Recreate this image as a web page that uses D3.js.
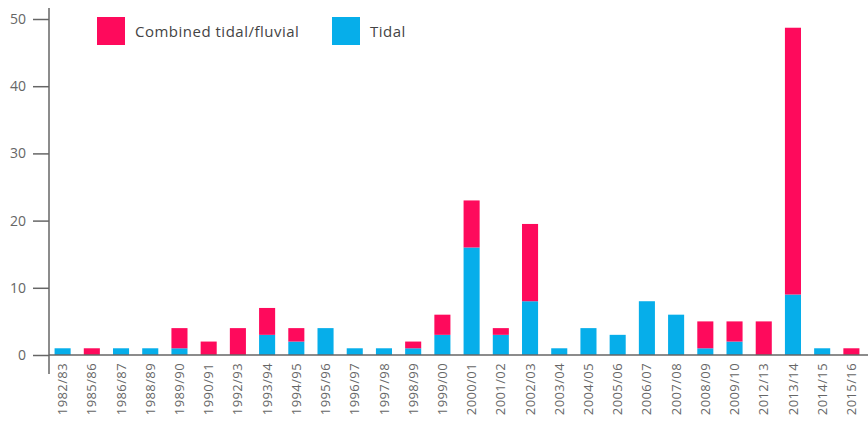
<!DOCTYPE html>
<html>
<head>
<meta charset="utf-8">
<script src="https://cdn.jsdelivr.net/npm/d3@7/dist/d3.min.js"></script>
<style>
  html, body { margin: 0; padding: 0; background: #fff; }
  svg { display: block; }
  text { font-family: "Open Sans", "DejaVu Sans", sans-serif; }
</style>
</head>
<body>
<svg id="chart" width="868" height="426"></svg>
<script>
const categories = ["1982/83","1985/86","1986/87","1988/89","1989/90","1990/91","1992/93","1993/94","1994/95","1995/96","1996/97","1997/98","1998/99","1999/00","2000/01","2001/02","2002/03","2003/04","2004/05","2005/06","2006/07","2007/08","2008/09","2009/10","2012/13","2013/14","2014/15","2015/16"];
const tidal    = [1,0,1,1,1,0,0,3,2,4,1,1,1,3,16,3,8,1,4,3,8,6,1,2,0,9,1,0];
const combined = [0,1,0,0,3,2,4,4,2,0,0,0,1,3,7,1,11.5,0,0,0,0,0,4,3,5,39.7,0,1];
const seriesNames = ["Combined tidal/fluvial", "Tidal"];
const yTicks = [0,10,20,30,40,50];

const colors = { "Tidal": "#06aeea", "Combined tidal/fluvial": "#fe0a5c" };

const svg = d3.select("#chart");

const x = d3.scaleBand().domain(categories).range([48, 866]).paddingInner(0.45).paddingOuter(0.225);
const y = d3.scaleLinear().domain([0, 50]).range([355, 19]);

const rows = categories.map((c, i) => ({ cat: c, "Tidal": tidal[i], "Combined tidal/fluvial": combined[i] }));
const stack = d3.stack().keys(["Tidal", "Combined tidal/fluvial"]);
const stacked = stack(rows);

svg.append("g").selectAll("g").data(stacked).join("g")
  .attr("fill", d => colors[d.key])
  .selectAll("rect").data(d => d).join("rect")
  .attr("x", d => x(d.data.cat))
  .attr("width", x.bandwidth())
  .attr("y", d => y(d[1]))
  .attr("height", d => y(d[0]) - y(d[1]));

// y axis
const yAxis = d3.axisLeft(y).tickValues(yTicks).tickSize(16).tickPadding(5).tickSizeOuter(0);
const gy = svg.append("g").attr("transform", "translate(49,0)").call(yAxis);
gy.select(".domain").remove();
gy.selectAll(".tick line").attr("stroke", "#666").attr("stroke-width", 1.5);
gy.selectAll(".tick text").attr("fill", "#666").style("font-size", "14px").attr("x", -23);
svg.append("line").attr("x1", 49).attr("x2", 49).attr("y1", 8).attr("y2", 374)
  .attr("stroke", "#666").attr("stroke-width", 1.5);

// x axis
const xAxis = d3.axisBottom(x).tickSize(0).tickPadding(8);
const gx = svg.append("g").attr("transform", `translate(0,${y(0)})`).call(xAxis);
gx.select(".domain").remove();
svg.append("line").attr("x1", 49).attr("x2", 868).attr("y1", y(0)).attr("y2", y(0))
  .attr("stroke", "#666").attr("stroke-width", 1.5);
gx.selectAll(".tick text")
  .attr("fill", "#666")
  .style("font-size", "13px")
  .style("letter-spacing", "0.4px")
  .attr("text-anchor", "end")
  .attr("dy", "0.35em")
  .attr("transform", "rotate(-90)")
  .attr("x", -8)
  .attr("y", 0);

// legend
const legend = svg.append("g");
const legendItems = [
  { name: seriesNames[0], x: 97 },
  { name: seriesNames[1], x: 332 }
];
legendItems.forEach(it => {
  legend.append("rect").attr("x", it.x).attr("y", 17).attr("width", 28).attr("height", 28)
    .attr("fill", colors[it.name]);
  legend.append("text").attr("x", it.x + 38).attr("y", 32).attr("dy", "0.35em")
    .attr("fill", "#444").style("font-size", "15px").style("letter-spacing", "0.5px").text(it.name);
});
</script>
</body>
</html>
